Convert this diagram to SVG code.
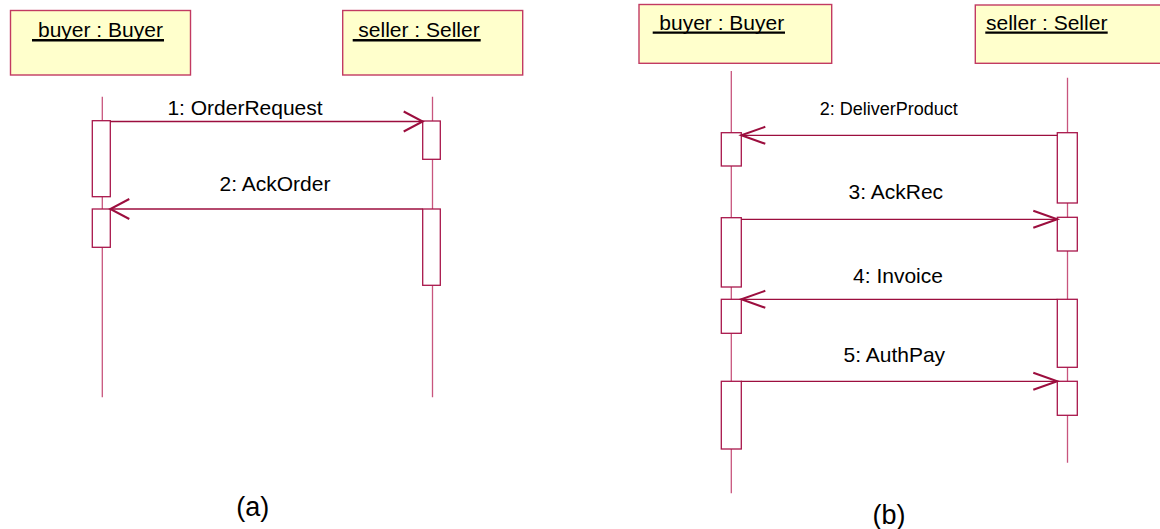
<svg xmlns="http://www.w3.org/2000/svg" width="1160" height="529" viewBox="0 0 1160 529">
  <style>
    .head { fill: #FFFFCC; stroke: #C23A62; stroke-width: 1.4; }
    .name { font-family: "Liberation Sans", Arial, sans-serif; font-size: 21px; fill: #000; }
    .uline { stroke: #000; stroke-width: 2.4; }
    .life { stroke: #C8557D; stroke-width: 1.3; fill: none; }
    .act { fill: #FFFFFF; stroke: #A8164A; stroke-width: 1.3; }
    .msg { stroke: #9C0E3E; stroke-width: 1.3; fill: none; }
    .lbl { font-family: "Liberation Sans", Arial, sans-serif; font-size: 21px; fill: #000; text-anchor: middle; }
    .lbl-s { font-size: 18px; }
    .cap { font-family: "Liberation Sans", Arial, sans-serif; font-size: 27px; fill: #000; text-anchor: middle; }
  </style>
  <defs>
    <marker id="openA" markerUnits="userSpaceOnUse" markerWidth="22" markerHeight="24" refX="19" refY="10" orient="auto" overflow="visible">
      <path d="M0,0 L19,10 L0,20" fill="none" stroke="#9C0E3E" stroke-width="2"/>
    </marker>
    <marker id="openB" markerUnits="userSpaceOnUse" markerWidth="26" markerHeight="20" refX="24" refY="8.5" orient="auto" overflow="visible">
      <path d="M0,0 L24,8.5 L0,17" fill="none" stroke="#9C0E3E" stroke-width="2"/>
    </marker>
  </defs>

  <!-- (a) order exchange -->
  <g id="a-buyer">
    <rect class="head" x="10.5" y="10.5" width="180" height="64.5"/>
    <text class="name" x="38" y="36.5">buyer : Buyer</text>
    <line class="uline" x1="32" y1="40.3" x2="164" y2="40.3"/>
    <line class="life" x1="102.3" y1="96.7" x2="102.3" y2="397.3"/>
    <rect class="act" x="92.3" y="120.7" width="18" height="76"/>
    <rect class="act" x="92.3" y="209" width="18" height="38.3"/>
  </g>
  <g id="a-seller">
    <rect class="head" x="342.7" y="10.5" width="180" height="64.5"/>
    <text class="name" x="358.3" y="36.5">seller : Seller</text>
    <line class="uline" x1="352.7" y1="40.3" x2="480.7" y2="40.3"/>
    <line class="life" x1="432.5" y1="96.7" x2="432.5" y2="397.3"/>
    <rect class="act" x="422.7" y="121" width="17.6" height="38.3"/>
    <rect class="act" x="422.7" y="209" width="17.6" height="76.3"/>
  </g>

  <!-- (b) delivery and payment -->
  <g id="b-buyer">
    <rect class="head" x="639" y="4.5" width="192.7" height="58.8"/>
    <text class="name" x="659.3" y="29.5">buyer : Buyer</text>
    <line class="uline" x1="652.7" y1="32.6" x2="785" y2="32.6"/>
    <line class="life" x1="731.3" y1="71" x2="731.3" y2="493.3"/>
    <rect class="act" x="721.3" y="132.7" width="20" height="33.3"/>
    <rect class="act" x="721.3" y="217.7" width="20" height="69.3"/>
    <rect class="act" x="721.3" y="299.3" width="20" height="34"/>
    <rect class="act" x="721.3" y="381.3" width="20" height="67.7"/>
  </g>
  <g id="b-seller">
    <rect class="head" x="975.3" y="5" width="192" height="58.3"/>
    <text class="name" x="986" y="29.5">seller : Seller</text>
    <line class="uline" x1="985.3" y1="32.6" x2="1107.7" y2="32.6"/>
    <line class="life" x1="1067.5" y1="77.7" x2="1067.5" y2="462.7"/>
    <rect class="act" x="1057.3" y="132.7" width="20" height="70.3"/>
    <rect class="act" x="1057.3" y="217.3" width="20" height="33.7"/>
    <rect class="act" x="1057.3" y="299.3" width="20" height="68"/>
    <rect class="act" x="1057.3" y="381.3" width="20" height="34"/>
  </g>

  <g id="connectors">
    <line class="msg" x1="110.3" y1="121.5" x2="422.7" y2="121.5" marker-end="url(#openA)"/>
    <line class="msg" x1="422.7" y1="209" x2="110.3" y2="209" marker-end="url(#openA)"/>
    <line class="msg" x1="1057.3" y1="135.3" x2="741.3" y2="135.3" marker-end="url(#openB)"/>
    <line class="msg" x1="741.3" y1="219.3" x2="1057.3" y2="219.3" marker-end="url(#openB)"/>
    <line class="msg" x1="1057.3" y1="299.3" x2="741.3" y2="299.3" marker-end="url(#openB)"/>
    <line class="msg" x1="741.3" y1="381.3" x2="1057.3" y2="381.3" marker-end="url(#openB)"/>
  </g>

  <g id="labels">
    <text class="lbl" x="245" y="115">1: OrderRequest</text>
    <text class="lbl" x="275" y="191">2: AckOrder</text>
    <text class="lbl lbl-s" x="888.7" y="115">2: DeliverProduct</text>
    <text class="lbl" x="895.8" y="199.3">3: AckRec</text>
    <text class="lbl" x="898" y="282.7">4: Invoice</text>
    <text class="lbl" x="894.3" y="362.3">5: AuthPay</text>
    <text class="cap" x="252.7" y="516">(a)</text>
    <text class="cap" x="889" y="524">(b)</text>
  </g>
</svg>
